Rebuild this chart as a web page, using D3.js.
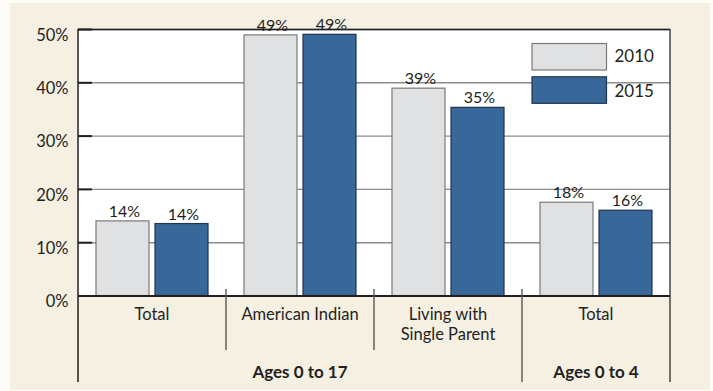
<!DOCTYPE html>
<html><head><meta charset="utf-8">
<script src="https://cdn.jsdelivr.net/npm/d3@7"></script>
<style>
html,body{margin:0;padding:0;background:#fdfcf9;}
svg{display:block;font-family:Lato,"Open Sans",sans-serif;}
</style></head>
<body>
<svg id="chart" width="713" height="391"></svg>
<script>
const categories = ["Total", "American Indian", "Living with|Single Parent", "Total"];
const seriesNames = ["2010", "2015"];
const values2010 = [14.0, 48.9, 38.9, 17.5];
const values2015 = [13.5, 49.0, 35.3, 16.0];
const labels2010 = ["14%", "49%", "39%", "18%"];
const labels2015 = ["14%", "49%", "35%", "16%"];
const groupLabels = ["Ages 0 to 17", "Ages 0 to 4"];
const groupSpans = [[0, 2], [3, 3]];
const yTicks = [0, 10, 20, 30, 40, 50];
const colors = ["#e0e1e3", "#376899"];
const strokes = ["#7a7a7a", "#1e3550"];
const FONT = "Lato, 'Open Sans', sans-serif";

const svg = d3.select("#chart");
svg.append("rect").attr("x", 10).attr("y", 3).attr("width", 700).attr("height", 387).attr("fill", "#f6f0e3");

const L = 78, R = 670, T = 29, B = 295.5, axisBottom = 382;
const y = d3.scaleLinear().domain([0, 50]).range([B, T]);
const x = d3.scaleBand().domain(d3.range(categories.length)).range([L, R]).paddingInner(0).paddingOuter(0);
const xs = d3.scaleBand().domain([0, 1]).range([0, x.bandwidth()]).paddingInner(6 / 59).paddingOuter(18 / 59);

// plot background
svg.append("rect").attr("x", L).attr("y", T).attr("width", R - L).attr("height", B - T).attr("fill", "#ffffff");

// gridlines
const grid = svg.append("g").attr("transform", `translate(${L},0)`)
  .call(d3.axisLeft(y).tickValues(yTicks.slice(1)).tickSize(-(R - L)).tickFormat(""));
grid.select(".domain").remove();
grid.selectAll("line").attr("stroke", "#8c8c8c").attr("stroke-width", 1.4);

// bars
const data = categories.map((c, i) => ({ i, vals: [values2010[i], values2015[i]], labs: [labels2010[i], labels2015[i]] }));
const cat = svg.selectAll("g.cat").data(data).join("g").attr("class", "cat")
  .attr("transform", d => `translate(${x(d.i)},0)`);
cat.selectAll("rect").data(d => d.vals.map((v, k) => ({ v, k }))).join("rect")
  .attr("x", d => xs(d.k)).attr("width", xs.bandwidth())
  .attr("y", d => y(d.v)).attr("height", d => B - y(d.v))
  .attr("fill", d => colors[d.k]).attr("stroke", d => strokes[d.k]).attr("stroke-width", 1.2);
cat.selectAll("text.val").data(d => d.vals.map((v, k) => ({ v, k, lab: d.labs[k] }))).join("text")
  .attr("class", "val")
  .attr("x", d => xs(d.k) + xs.bandwidth() / 2 + 2).attr("y", d => y(d.v) - 4)
  .attr("text-anchor", "middle").attr("font-size", 16).attr("fill", "#231f20")
  .text(d => d.lab);

// legend
const legend = svg.append("g");
seriesNames.forEach((s, k) => {
  legend.append("rect").attr("x", 532).attr("y", 43.5 + k * 33.3).attr("width", 74.5).attr("height", 26.5)
    .attr("fill", colors[k]).attr("stroke", strokes[k]).attr("stroke-width", 1.2);
  legend.append("text").attr("x", 614.5).attr("y", 61.8 + k * 34.8).attr("font-size", 17).attr("fill", "#231f20").text(s);
});

// y axis
const ya = svg.append("g").attr("transform", `translate(${L},0)`)
  .call(d3.axisLeft(y).tickValues(yTicks).tickSize(-14).tickPadding(10).tickFormat(d => d + "%"));
ya.select(".domain").remove();
ya.selectAll("line").attr("stroke", "#231f20").attr("stroke-width", 2);
ya.selectAll("text").attr("font-size", 16.5).attr("fill", "#231f20").attr("font-family", FONT)
  .attr("x", -9.5).attr("dy", "0.68em");

// frame lines
const ln = (x1, y1, x2, y2, c, w) => svg.append("line").attr("x1", x1).attr("y1", y1).attr("x2", x2).attr("y2", y2).attr("stroke", c).attr("stroke-width", w);
ln(L, T + 0.5, R, T + 0.5, "#231f20", 1.4);
ln(L, T, L, axisBottom, "#231f20", 1.5);
ln(R, T, R, axisBottom, "#3a3a3a", 1.4);
ln(L, B + 0.5, R, B + 0.5, "#231f20", 2);

// category separators
[1, 2].forEach(i => ln(x(i), 289, x(i), 350, "#555", 1.4));
ln(x(3), 289, x(3), axisBottom, "#555", 1.4);

// category labels
categories.forEach((c, i) => {
  const lines = c.split("|");
  const t = svg.append("text").attr("text-anchor", "middle").attr("font-size", 16.5).attr("fill", "#231f20");
  lines.forEach((l, j) => t.append("tspan").attr("x", x(i) + x.bandwidth() / 2).attr("y", 319.5 + j * 20.5).text(l));
});

// group labels
groupLabels.forEach((g, k) => {
  const [a, b] = groupSpans[k];
  svg.append("text").attr("x", (x(a) + x(b) + x.bandwidth()) / 2).attr("y", 377.5)
    .attr("text-anchor", "middle").attr("font-size", 17).attr("font-weight", "bold").attr("fill", "#231f20").text(g);
});
</script>
</body></html>
